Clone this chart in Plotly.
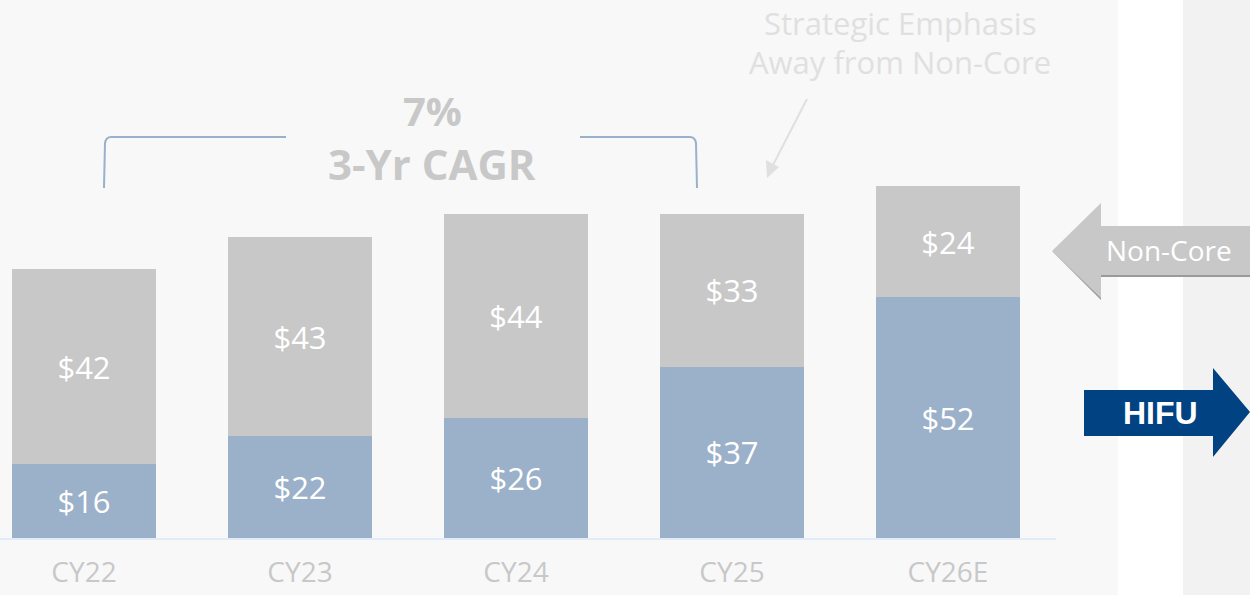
import plotly.graph_objects as go

# Revenue by segment ($M)
categories = ["CY22", "CY23", "CY24", "CY25", "CY26E"]
hifu = [16, 22, 26, 37, 52]
non_core = [42, 43, 44, 33, 24]

W, H = 1250, 595
ML, MR, MT, MB = 0, 194, 0, 57
PW, PH = W - ML - MR, H - MT - MB

BLUE = "#9bb0c9"
GRAY = "#c8c8c8"
NAVY = "#004282"
FONT = "Open Sans"


def px(x):
    return (x - ML) / PW


def py(y):
    return (H - MB - y) / PH


def path(points):
    return "M " + " L ".join(f"{px(x):.5f},{py(y):.5f}" for x, y in points) + " Z"


fig = go.Figure()
for values, colour in ((hifu, BLUE), (non_core, GRAY)):
    fig.add_bar(x=categories, y=values, marker_color=colour, marker_line_width=0,
                texttemplate="$%{y}", textposition="inside", insidetextanchor="middle",
                textfont=dict(color="white", size=31, family=FONT), constraintext="none",
                hoverinfo="skip")

shapes = [
    # panel backgrounds
    dict(type="rect", xref="paper", yref="paper", x0=px(0), x1=px(1118), y0=py(H), y1=py(0),
         fillcolor="#f8f8f8", line_width=0, layer="below"),
    dict(type="rect", xref="paper", yref="paper", x0=px(1183), x1=px(W), y0=py(H), y1=py(0),
         fillcolor="#f2f2f2", line_width=0, layer="below"),
    # CAGR bracket
    dict(type="path", xref="paper", yref="paper", layer="above",
         path=f"M {px(104):.5f},{py(188):.5f} L {px(105):.5f},{py(143):.5f} "
              f"Q {px(106):.5f},{py(137):.5f} {px(111):.5f},{py(137):.5f} L {px(286):.5f},{py(137):.5f}",
         line=dict(color=BLUE, width=2)),
    dict(type="path", xref="paper", yref="paper", layer="above",
         path=f"M {px(580):.5f},{py(137):.5f} L {px(690):.5f},{py(137):.5f} "
              f"Q {px(695):.5f},{py(137):.5f} {px(696):.5f},{py(143):.5f} L {px(697):.5f},{py(188):.5f}",
         line=dict(color=BLUE, width=2)),
    # pointer from the emphasis note
    dict(type="line", xref="paper", yref="paper", x0=px(807), y0=py(99), x1=px(773), y1=py(165),
         line=dict(color="#e0e0e0", width=2)),
    dict(type="path", xref="paper", yref="paper",
         path=path([(767, 178), (766, 160), (779, 167)]),
         fillcolor="#e0e0e0", line_width=0),
    # Non-Core arrow (shadow + body)
    dict(type="path", xref="paper", yref="paper",
         path=path([(1053, 252), (1101, 205), (1101, 228), (W, 228), (W, 277), (1101, 277), (1101, 300)]),
         fillcolor="#9a9a9a", line_width=0),
    dict(type="path", xref="paper", yref="paper",
         path=path([(1052, 251), (1101, 203), (1101, 226), (W, 226), (W, 275), (1101, 275), (1101, 298)]),
         fillcolor=GRAY, line_width=0),
    # HIFU arrow
    dict(type="path", xref="paper", yref="paper",
         path=path([(1084, 390), (1213, 390), (1213, 368), (1250, 412), (1213, 457), (1213, 436), (1084, 436)]),
         fillcolor=NAVY, line_width=0),
]

annotations = [
    dict(text="<b>7%</b>", x=px(432), y=py(110), font=dict(size=40, color=GRAY, family=FONT)),
    dict(text="<b>3-Yr CAGR</b>", x=px(432), y=py(163), font=dict(size=42, color=GRAY, family=FONT)),
    dict(text="Strategic Emphasis", x=px(900), y=py(23), font=dict(size=31, color="#e0e0e0", family=FONT)),
    dict(text="Away from Non-Core", x=px(900), y=py(62), font=dict(size=31, color="#e0e0e0", family=FONT)),
    dict(text="Non-Core", x=px(1169), y=py(250), font=dict(size=28, color="white", family=FONT)),
    dict(text="<b>HIFU</b>", x=px(1160), y=py(413), font=dict(size=32, color="white", family="Liberation Sans")),
]
for a in annotations:
    a.update(xref="paper", yref="paper", showarrow=False, xanchor="center", yanchor="middle")

fig.update_layout(
    width=W, height=H, barmode="stack", bargap=1 / 3, showlegend=False,
    margin=dict(l=ML, r=MR, t=MT, b=MB),
    paper_bgcolor="white", plot_bgcolor="rgba(0,0,0,0)",
    shapes=shapes, annotations=annotations,
    xaxis=dict(range=[-84 / 216, 4.5], showgrid=False, zeroline=False, automargin=False,
               showline=True, linecolor="#e2ecf8", linewidth=2, ticks="",
               tickfont=dict(size=28, color=GRAY, family=FONT), ticklabelstandoff=8),
    yaxis=dict(range=[0, PH / 4.63], visible=False, automargin=False),
)

fig.write_html("out.html")
